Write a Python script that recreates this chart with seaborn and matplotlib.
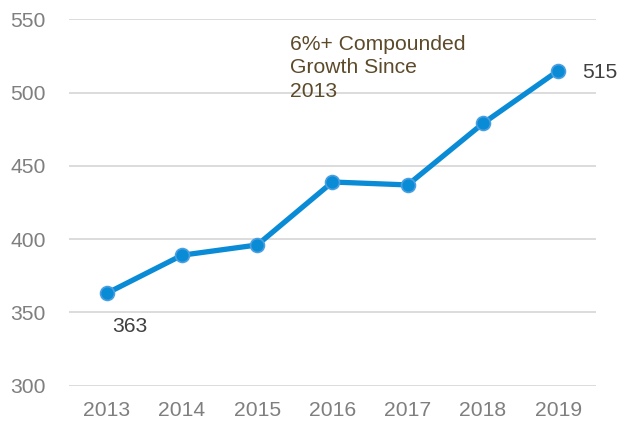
import pandas as pd
import seaborn as sns
import matplotlib.pyplot as plt

years = ['2013', '2014', '2015', '2016', '2017', '2018', '2019']
values = [363, 389, 396, 439, 437, 479, 515]
y_ticks = [300, 350, 400, 450, 500, 550]
note = '6%+ Compounded\nGrowth Since\n2013'

df = pd.DataFrame({'year': years, 'value': values})

sns.set_style('white')
plt.rcParams['font.family'] = ['Liberation Sans', 'DejaVu Sans']

fig = plt.figure(figsize=(6.18, 4.21), dpi=100)
ax = fig.add_axes([0.112, 0.0843, 0.852, 0.8694])

sns.lineplot(data=df, x='year', y='value', ax=ax, color='#0a8bd6',
             linewidth=3.8, marker='o', markersize=10,
             markerfacecolor='#0a8bd6', markeredgecolor='#4a9fe0',
             markeredgewidth=1.2)

ax.set_xlim(-0.5, len(years) - 0.5)
ax.set_ylim(300, 550)
ax.set_yticks(y_ticks)
ax.yaxis.grid(True, color='#d9d9d9', linewidth=1.3)
ax.set_axisbelow(True)
for s in ax.spines.values():
    s.set_visible(False)
ax.tick_params(axis='both', length=0, labelsize=15.2, labelcolor='#7f7f7f')
ax.tick_params(axis='y', pad=17)
ax.tick_params(axis='x', pad=11)
ax.set_xlabel('')
ax.set_ylabel('')

ax.annotate(str(values[0]), (0, values[0]), xytext=(4, -24),
            textcoords='offset points', fontsize=15.2, color='#404040',
            ha='left', va='center')
ax.annotate(str(values[-1]), (len(years) - 1, values[-1]), xytext=(17, -1),
            textcoords='offset points', fontsize=15.2, color='#404040',
            ha='left', va='center')
ax.text(0.419, 0.958, note, transform=ax.transAxes, fontsize=15.2,
        color='#5c4a2a', ha='left', va='top', linespacing=1.3)

plt.savefig('out.png', dpi=100)
